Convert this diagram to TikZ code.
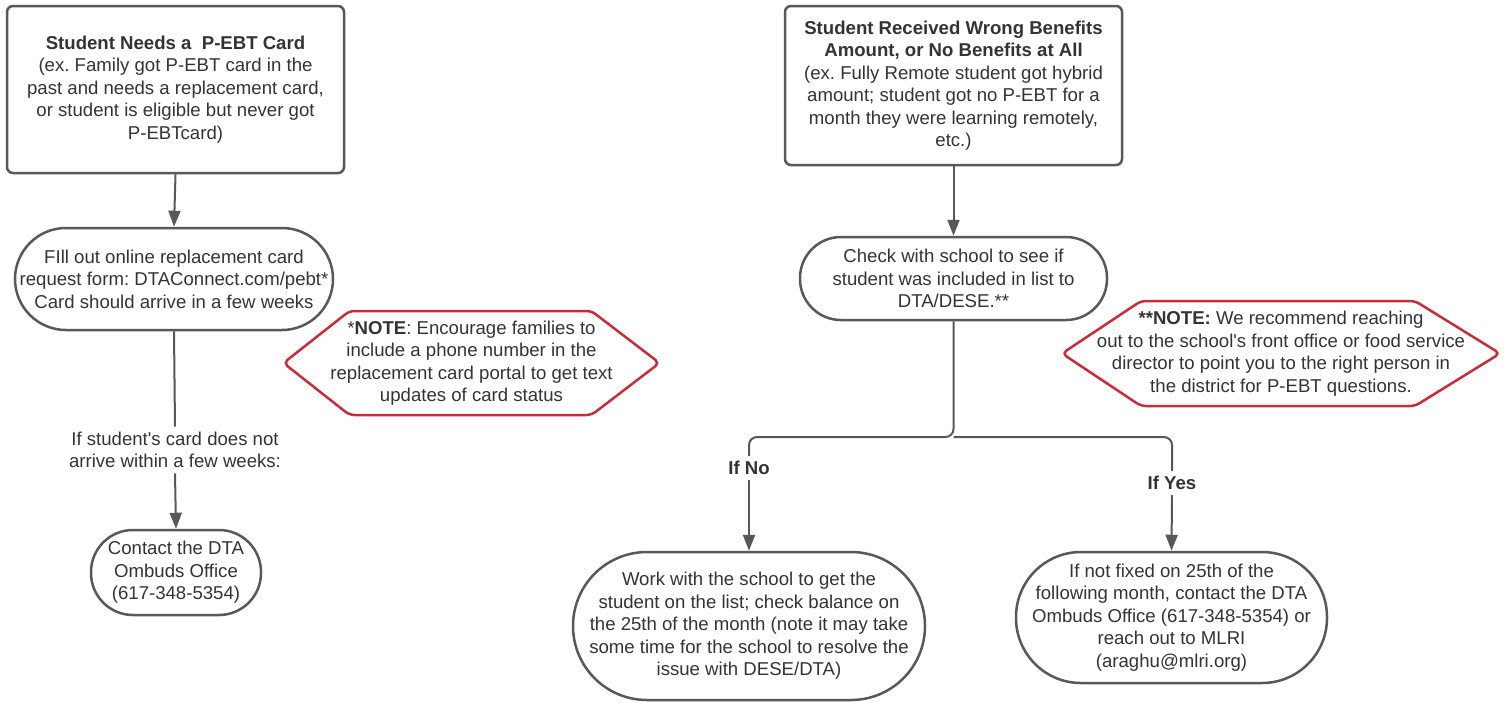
\documentclass[tikz,border=0pt]{standalone}
\usepackage{fontspec}
\setmainfont{Liberation Sans}
\frenchspacing
\usetikzlibrary{arrows.meta,calc}
\definecolor{edgegray}{RGB}{88,88,88}
\definecolor{txt}{RGB}{51,51,51}
\definecolor{notered}{RGB}{200,44,56}
\tikzset{
  base/.style={text=txt, font=\fontsize{18.6}{22.5}\selectfont, align=center, inner sep=0pt},
  procbox/.style={base, draw=edgegray, line width=2.5pt, rounded corners=6pt},
  stadium/.style={base, draw=edgegray, line width=2.5pt},
  lbl/.style={base, inner sep=5pt},
  conn/.style={draw=edgegray, line width=2pt},
  arr/.style={conn, -{Triangle[length=16pt,width=12pt]}},
  hexbox/.style={draw=notered, line width=2.5pt, rounded corners=5pt, line join=round}
}
\begin{document}
\begin{tikzpicture}[x=1pt,y=-1pt]
\useasboundingbox (0,0) rectangle (1507,702);

% left column
\node[procbox, minimum width=337pt, minimum height=167pt] (A) at (175.5,89.5)
  {\textbf{Student Needs a\ \ P-EBT Card}\\(ex. Family got P-EBT card in the\\past and needs a replacement card,\\or student is eligible but never got\\P-EBTcard)};
\node[stadium, minimum width=318pt, minimum height=102pt, rounded corners=51pt] (B) at (174,279)
  {FIll out online replacement card\\request form: DTAConnect.com/pebt*\\Card should arrive in a few weeks};
\node[lbl] (L1) at (175,450) {If student\textquotesingle s card does not\\arrive within a few weeks:};
\node[stadium, minimum width=170pt, minimum height=85pt, rounded corners=42pt] (C) at (176,572.5)
  {Contact the DTA\\Ombuds Office\\(617-348-5354)};

\draw[arr] (A.south) -- (B.north);
\draw[conn] (B.south) -- (L1.north);
\draw[arr] (L1.south) -- (C.north);

% note 1
\node[base] (N1) at (471.5,363)
  {*\textbf{NOTE}: Encourage families to\\include a phone number in the\\replacement card portal to get text\\updates of card status};
\draw[hexbox] ($(N1.center)+(-188,0)$) -- ($(N1.center)+(-122,-52)$) -- ($(N1.center)+(120,-52)$)
  -- ($(N1.center)+(188,0)$) -- ($(N1.center)+(120,52)$) -- ($(N1.center)+(-122,52)$) -- cycle;

% right column
\node[procbox, minimum width=337pt, minimum height=159pt] (D) at (953.5,85.5)
  {\textbf{Student Received Wrong Benefits}\\\textbf{Amount, or No Benefits at All}\\(ex. Fully Remote student got hybrid\\amount; student got no P-EBT for a\\month they were learning remotely,\\etc.)};
\node[stadium, minimum width=307pt, minimum height=83pt, rounded corners=41pt] (E) at (953.5,278.5)
  {Check with school to see if\\student was included in list to\\DTA/DESE.**};
\draw[arr] (D.south) -- (E.north);

\node[base] (N2) at (1281,353.5)
  {\textbf{**NOTE:} We recommend reaching\\out to the school\textquotesingle s front office or food service\\director to point you to the right person in\\the district for P-EBT questions.};
\draw[hexbox] ($(N2.center)+(-219,0)$) -- ($(N2.center)+(-140,-52.5)$) -- ($(N2.center)+(134,-52.5)$)
  -- ($(N2.center)+(219,0)$) -- ($(N2.center)+(134,52.5)$) -- ($(N2.center)+(-140,52.5)$) -- cycle;

\coordinate (split) at (953.5,437);
\node[lbl, font=\fontsize{18.6}{22.5}\selectfont\bfseries] (ifno) at (749,468) {If No};
\node[lbl, font=\fontsize{18.6}{22.5}\selectfont\bfseries] (ifyes) at (1172,483) {If Yes};

\node[stadium, minimum width=352pt, minimum height=148pt, rounded corners=74pt] (F) at (749,626)
  {Work with the school to get the\\student on the list; check balance on\\the 25th of the month (note it may take\\some time for the school to resolve the\\issue with DESE/DTA)};
\node[stadium, minimum width=311pt, minimum height=131pt, rounded corners=65pt] (G) at (1171.5,617.5)
  {If not fixed on 25th of the\\following month, contact the DTA\\Ombuds Office (617-348-5354) or\\reach out to MLRI\\(araghu@mlri.org)};

\draw[conn, rounded corners=8pt] (E.south) -- (split) -| (ifno.north);
\draw[conn, rounded corners=8pt] (split) -| (ifyes.north);
\draw[arr] (ifno.south) -- (F.north);
\draw[arr] (ifyes.south) -- (G.north);
\end{tikzpicture}
\end{document}
